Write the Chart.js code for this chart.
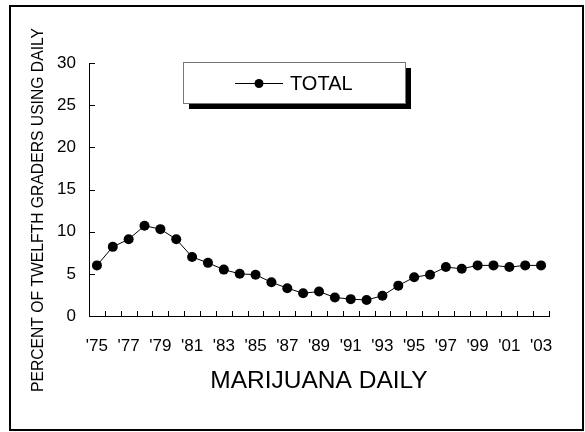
<!DOCTYPE html>
<html>
<head>
<meta charset="utf-8">
<script src="https://cdn.jsdelivr.net/npm/chart.js@4/dist/chart.umd.min.js"></script>
<style>
html,body{margin:0;padding:0;background:#fff;}
#wrap{width:585px;height:432px;}
</style>
</head>
<body>
<div id="wrap"><canvas id="c" width="585" height="432"></canvas></div>
<script>
const years = ["'75","'76","'77","'78","'79","'80","'81","'82","'83","'84","'85","'86","'87","'88","'89","'90","'91","'92","'93","'94","'95","'96","'97","'98","'99","'00","'01","'02","'03"];
const totalDaily = [6.0,8.2,9.1,10.7,10.3,9.1,7.0,6.3,5.5,5.0,4.9,4.0,3.3,2.7,2.9,2.2,2.0,1.9,2.4,3.6,4.6,4.9,5.8,5.6,6.0,6.0,5.8,6.0,6.0];
const yTicks = [0,5,10,15,20,25,30];
const seriesLabel = 'TOTAL';
const xTitle = 'MARIJUANA DAILY';
const yTitle = 'PERCENT OF TWELFTH GRADERS USING DAILY';

const FONT = 'Arial, "Liberation Sans", sans-serif';
Chart.defaults.font.family = FONT;
Chart.defaults.color = '#000';

const decor = {
  id: 'decor',
  beforeDraw(chart) {
    const ctx = chart.ctx;
    ctx.save();
    ctx.fillStyle = '#fff';
    ctx.fillRect(0, 0, chart.width, chart.height);
    ctx.strokeStyle = '#000';
    ctx.lineWidth = 2;
    ctx.strokeRect(10, 6, 573, 424);
    ctx.restore();
  },
  afterDatasetsDraw(chart) {
    const ctx = chart.ctx;
    const xs = chart.scales.x, ys = chart.scales.y;
    const ca = chart.chartArea;
    ctx.save();
    ctx.strokeStyle = '#000';
    ctx.lineWidth = 1;
    const half = (xs.getPixelForValue(1) - xs.getPixelForValue(0)) / 2;
    ctx.beginPath();
    for (let i = 0; i <= years.length; i++) {
      const x = Math.round(xs.getPixelForValue(i) - half) + 0.5;
      ctx.moveTo(x, ca.bottom);
      ctx.lineTo(x, ca.bottom - 5);
    }
    yTicks.forEach(v => {
      const y = Math.round(ys.getPixelForValue(v)) + 0.5;
      ctx.moveTo(ca.left, y);
      ctx.lineTo(ca.left + 6, y);
    });
    ctx.stroke();

    ctx.fillStyle = '#000';
    ctx.font = '15.7px ' + FONT;
    ctx.textAlign = 'center';
    ctx.textBaseline = 'middle';
    ctx.translate(39, 210);
    ctx.rotate(-Math.PI / 2);
    ctx.fillText(yTitle, 0, 0);
    ctx.restore();

    ctx.save();
    const bx = 183, by = 62, bw = 222, bh = 41;
    ctx.fillStyle = '#000';
    ctx.fillRect(bx + 6, by + 6, bw, bh);
    ctx.fillStyle = '#fff';
    ctx.fillRect(bx, by, bw, bh);
    ctx.strokeStyle = '#777';
    ctx.lineWidth = 1;
    ctx.strokeRect(bx + 0.5, by + 0.5, bw, bh);
    const ly = by + 21;
    ctx.strokeStyle = '#000';
    ctx.beginPath();
    ctx.moveTo(235, ly + 0.5);
    ctx.lineTo(283, ly + 0.5);
    ctx.stroke();
    ctx.fillStyle = '#000';
    ctx.beginPath();
    ctx.arc(259, ly + 0.5, 4.5, 0, Math.PI * 2);
    ctx.fill();
    ctx.font = '20px ' + FONT;
    ctx.textAlign = 'left';
    ctx.textBaseline = 'middle';
    ctx.fillText(chart.data.datasets[0].label, 290, ly + 1);
    ctx.restore();
  }
};

new Chart(document.getElementById('c'), {
  type: 'line',
  data: {
    labels: years,
    datasets: [{
      label: seriesLabel,
      data: totalDaily,
      borderColor: '#000',
      backgroundColor: '#000',
      borderWidth: 1,
      pointRadius: 5,
      pointBackgroundColor: '#000',
      pointBorderColor: '#000',
      pointBorderWidth: 0,
      tension: 0,
      fill: false
    }]
  },
  options: {
    responsive: false,
    animation: false,
    devicePixelRatio: 1,
    layout: { padding: { left: 0, top: 63, right: 36, bottom: 0 } },
    plugins: { legend: { display: false }, tooltip: { enabled: false } },
    scales: {
      x: {
        type: 'category',
        offset: true,
        grid: { display: false, drawTicks: false, offset: true },
        border: { display: true, color: '#000', width: 1 },
        ticks: {
          autoSkip: false,
          maxRotation: 0,
          padding: 20,
          font: { size: 17 },
          color: '#000',
          callback: function(v, i) { return i % 2 === 0 ? years[i] : ''; }
        },
        title: { display: true, text: xTitle, font: { size: 24.5 }, color: '#000', padding: { top: 0, bottom: 36 } },
        afterFit(scale) { scale.height = 116; }
      },
      y: {
        min: 0, max: 30,
        grid: { display: false, drawTicks: false },
        border: { display: true, color: '#000', width: 1 },
        ticks: { stepSize: 5, padding: 13, font: { size: 17 }, color: '#000' },
        afterFit(scale) { scale.width = 89; }
      }
    }
  },
  plugins: [decor]
});
</script>
</body>
</html>
